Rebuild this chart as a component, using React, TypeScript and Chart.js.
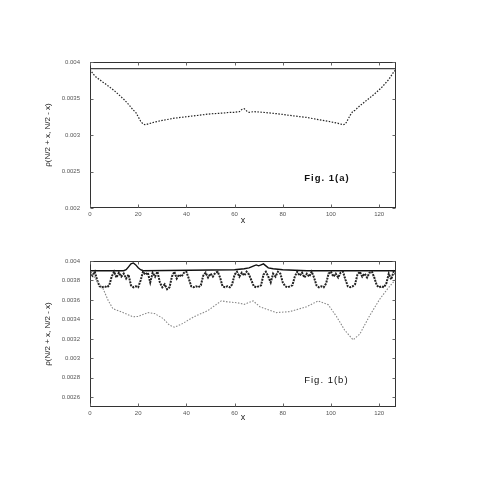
import React, { useEffect, useRef } from "react";
import { Chart, registerables } from "chart.js";

Chart.register(...registerables);

// ---------- Data ----------
const xTicks = [0, 20, 40, 60, 80, 100, 120];
const xMax = 127;

// Panel (a)
const aYTicks = [0.002, 0.0025, 0.003, 0.0035, 0.004];
const aSolidX = [0, 16, 32, 48, 64, 80, 96, 112, 127];
const aSolidY = [0.00391, 0.00391, 0.00391, 0.00391, 0.00391, 0.00391, 0.00391, 0.00391, 0.00391];
const aDotX = [0, 1, 2, 3, 4, 5, 6, 8, 10, 12, 14, 16, 18, 19, 20, 21, 22, 23, 26, 30, 35, 40, 45, 50, 55, 58, 60, 62, 63, 64, 65, 66, 68, 72, 78, 85, 90, 95, 100, 103, 105, 106, 107, 108, 109, 110, 112, 115, 118, 121, 124, 126, 127];
const aDotY = [0.0039, 0.00385, 0.00381, 0.00378, 0.00376, 0.00373, 0.00371, 0.00366, 0.00361, 0.00355, 0.00349, 0.00342, 0.00334, 0.00331, 0.00325, 0.00319, 0.00315, 0.00314, 0.00317, 0.0032, 0.00323, 0.00325, 0.00327, 0.00329, 0.0033, 0.00331, 0.00331, 0.00332, 0.00335, 0.00336, 0.00333, 0.00331, 0.00332, 0.00331, 0.00329, 0.00326, 0.00324, 0.00321, 0.00318, 0.00316, 0.00314, 0.00315, 0.00321, 0.00327, 0.00332, 0.00334, 0.0034, 0.00348, 0.00356, 0.00365, 0.00376, 0.00386, 0.0039];

// Panel (b)
const bYTicks = [0.0026, 0.0028, 0.003, 0.0032, 0.0034, 0.0036, 0.0038, 0.004];
const bSolidX = [0, 14, 15, 16, 17, 18, 19, 20, 21, 22, 60, 64, 66, 67, 68, 69, 70, 71, 72, 73, 74, 76, 80, 90, 127];
const bSolidY = [0.0039, 0.0039, 0.00391, 0.00394, 0.00397, 0.00398, 0.00396, 0.00393, 0.00391, 0.0039, 0.00391, 0.00392, 0.00393, 0.00394, 0.00395, 0.00396, 0.00395, 0.00396, 0.00397, 0.00395, 0.00393, 0.00392, 0.00391, 0.0039, 0.0039];
const bWellY = [
  0.00389, 0.00385, 0.00389, 0.0038, 0.00374, 0.00373, 0.00374, 0.00373, 0.00375, 0.00384,
  0.00389, 0.00383, 0.00388, 0.00384, 0.00387, 0.00382, 0.00386, 0.00375, 0.00373, 0.00374,
  0.00373, 0.0038, 0.00389, 0.00386, 0.00388, 0.00378, 0.00388, 0.00384, 0.00389, 0.00378,
  0.00373, 0.00376, 0.00371, 0.00373, 0.00384, 0.00389, 0.00382, 0.00386, 0.00384, 0.00388,
  0.00389, 0.00382, 0.00374, 0.00373, 0.00374, 0.00373, 0.00375, 0.00385, 0.00388, 0.00383,
  0.00387, 0.00384, 0.00388, 0.00389, 0.00383, 0.00374, 0.00373, 0.00374, 0.00373, 0.00376,
  0.00386, 0.00389, 0.00384, 0.00388, 0.00385, 0.00389, 0.00386, 0.0038, 0.00374, 0.00373,
  0.00374, 0.00375, 0.00386, 0.00389, 0.00384, 0.00378, 0.00387, 0.00384, 0.00389, 0.00387,
  0.00378, 0.00374, 0.00373, 0.00374, 0.00375, 0.00384, 0.00389, 0.00385, 0.00388, 0.00383,
  0.00387, 0.00384, 0.00389, 0.00383, 0.00375, 0.00373, 0.00374, 0.00373, 0.00377, 0.00387,
  0.00389, 0.00384, 0.00387, 0.00383, 0.00388, 0.00389, 0.00381, 0.00374, 0.00373, 0.00374,
  0.00376, 0.00386, 0.00389, 0.00384, 0.00387, 0.00383, 0.00388, 0.00389, 0.00383, 0.00375,
  0.00373, 0.00374, 0.00373, 0.00377, 0.00387, 0.00381, 0.00389, 0.00386,
];
const bLowX = [0, 3.3, 5.4, 7.5, 9.5, 13, 17.8, 19.9, 24, 26.8, 30.3, 33, 35.1, 37.9, 43.4, 48.9, 54.5, 57.2, 61.4, 64, 67.7, 70.5, 77.4, 82.9, 89.9, 94.7, 98.9, 102.3, 105.7, 109.2, 112, 116.1, 120.3, 123.7, 126.5, 127];
const bLowY = [0.00389, 0.003785, 0.003717, 0.003597, 0.00351, 0.003478, 0.003427, 0.00343, 0.00347, 0.00346, 0.00341, 0.00334, 0.00332, 0.00335, 0.00343, 0.00349, 0.00359, 0.00358, 0.00357, 0.003555, 0.00359, 0.00353, 0.00347, 0.00348, 0.00353, 0.00359, 0.00355, 0.00343, 0.00329, 0.00319, 0.00325, 0.00344, 0.00361, 0.00372, 0.0038, 0.00381];

const yTitle = "ρ(N/2 + x, N/2 - x)";
const xTitle = "x";

// ---------- helpers ----------
const FONT = '"Liberation Sans", Arial, Helvetica, sans-serif';
const pts = (xs: number[], ys: number[]) => xs.map((x, i) => ({ x, y: ys[i] }));
const fmt = (v: number) => String(+Number(v).toFixed(5));

const framePlugin = {
  id: "frame",
  afterDraw(chart: any, _args: any, opts: any) {
    const { ctx, chartArea } = chart;
    const { left, right, top, bottom } = chartArea;
    const xs = chart.scales.x;
    const ys = chart.scales.y;
    ctx.save();
    ctx.strokeStyle = "#333";
    ctx.lineWidth = 1;
    const L = Math.round(left) + 0.5;
    const R = Math.round(right) - 0.5;
    const T = Math.round(top) + 0.5;
    const B = Math.round(bottom) - 0.5;
    ctx.strokeRect(L, T, R - L, B - T);
    ctx.strokeStyle = "#666";
    const tl = 3;
    ctx.beginPath();
    xs.ticks.forEach((t: any) => {
      const p = Math.round(xs.getPixelForValue(t.value)) + 0.5;
      ctx.moveTo(p, B);
      ctx.lineTo(p, B - tl);
      ctx.moveTo(p, T);
      ctx.lineTo(p, T + tl);
    });
    ys.ticks.forEach((t: any) => {
      const p = Math.round(ys.getPixelForValue(t.value)) + 0.5;
      ctx.moveTo(L, p);
      ctx.lineTo(L + tl, p);
      ctx.moveTo(R, p);
      ctx.lineTo(R - tl, p);
    });
    ctx.stroke();
    if (opts && opts.label) {
      ctx.fillStyle = "#111";
      ctx.font = `${opts.bold ? "bold " : ""}9.5px ${FONT}`;
      try {
        (ctx as any).letterSpacing = "1px";
      } catch (e) {}
      ctx.textBaseline = "middle";
      ctx.textAlign = "left";
      ctx.fillText(opts.label, left + opts.fx * (right - left), top + opts.fy * (bottom - top));
    }
    ctx.restore();
  },
};

function makeConfig(
  datasets: any[],
  yMin: number,
  yMax: number,
  yTicks: number[],
  padTop: number,
  xAxisHeight: number,
  xTitleOffset: number,
  label: string,
  bold: boolean,
  fx: number,
  fy: number
) {
  return {
    type: "line",
    data: { datasets },
    plugins: [framePlugin],
    options: {
      animation: false,
      responsive: false,
      devicePixelRatio: 1,
      layout: { padding: { left: 0, right: 84, top: padTop, bottom: 0 } },
      plugins: {
        legend: { display: false },
        tooltip: { enabled: false },
        frame: { label, bold, fx, fy },
      },
      elements: { point: { radius: 0 }, line: { tension: 0 } },
      scales: {
        x: {
          type: "linear",
          min: 0,
          max: xMax,
          grid: { display: false, drawTicks: false },
          border: { display: false },
          afterBuildTicks: (s: any) => {
            s.ticks = xTicks.map((v) => ({ value: v }));
          },
          afterFit: (s: any) => {
            s.height = xAxisHeight;
          },
          ticks: {
            padding: 3,
            maxRotation: 0,
            autoSkip: false,
            color: "#555",
            font: { size: 6, family: FONT },
            callback: (v: any) => String(v),
          },
          title: {
            display: true,
            text: xTitle,
            color: "#222",
            font: { size: 9, family: FONT },
            padding: { top: 0, bottom: xTitleOffset - 5.4 },
          },
        },
        y: {
          type: "linear",
          min: yMin,
          max: yMax,
          grid: { display: false, drawTicks: false },
          border: { display: false },
          afterBuildTicks: (s: any) => {
            s.ticks = yTicks.map((v) => ({ value: v }));
          },
          afterFit: (s: any) => {
            s.width = 90;
          },
          ticks: {
            padding: 10,
            autoSkip: false,
            color: "#555",
            font: { size: 6, family: FONT },
            callback: (v: any) => fmt(v),
          },
          title: {
            display: true,
            text: yTitle,
            color: "#222",
            font: { size: 8, family: FONT },
            padding: { top: 48 - 4.8, bottom: 0 },
          },
        },
      },
    },
  } as any;
}

function Panel(props: { config: any; top: number }) {
  const ref = useRef<HTMLCanvasElement | null>(null);
  useEffect(() => {
    if (!ref.current) return;
    const chart = new Chart(ref.current, props.config);
    return () => chart.destroy();
  }, []);
  return (
    <canvas
      ref={ref}
      width={480}
      height={240}
      style={{ position: "absolute", left: 0, top: props.top, width: 480, height: 240 }}
    />
  );
}

export default function App() {
  const configA = makeConfig(
    [
      {
        data: pts(aSolidX, aSolidY),
        borderColor: "#444",
        borderWidth: 1.3,
      },
      {
        data: pts(aDotX, aDotY),
        borderColor: "#222",
        borderWidth: 1.2,
        borderDash: [1.5, 1.5],
      },
    ],
    0.002,
    0.004,
    aYTicks,
    62,
    32,
    19,
    "Fig. 1(a)",
    true,
    0.7,
    0.795
  );
  const configB = makeConfig(
    [
      {
        data: pts(bLowX, bLowY),
        borderColor: "#888",
        borderWidth: 1.1,
        borderDash: [1.5, 1.5],
      },
      {
        data: bWellY.map((y, i) => ({ x: i, y })),
        borderColor: "#222",
        borderWidth: 2,
        borderDash: [2, 1],
      },
      {
        data: pts(bSolidX, bSolidY),
        borderColor: "#111",
        borderWidth: 1.4,
      },
    ],
    0.0025,
    0.004,
    bYTicks,
    21,
    73,
    62,
    "Fig. 1(b)",
    false,
    0.7,
    0.815
  );
  return (
    <div style={{ position: "fixed", left: 0, top: 0, width: 480, height: 480, background: "#fff" }}>
      <Panel config={configA} top={0} />
      <Panel config={configB} top={240} />
    </div>
  );
}
